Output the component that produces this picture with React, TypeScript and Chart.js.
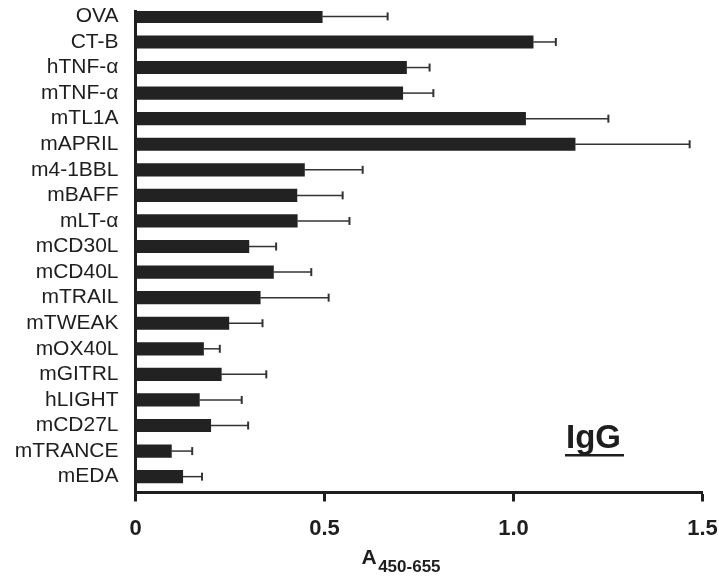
import React, { useEffect, useRef } from "react";
import { Chart, registerables } from "chart.js";

Chart.register(...registerables);

const categories = [
  "OVA", "CT-B", "hTNF-α", "mTNF-α", "mTL1A", "mAPRIL", "m4-1BBL", "mBAFF", "mLT-α",
  "mCD30L", "mCD40L", "mTRAIL", "mTWEAK", "mOX40L", "mGITRL", "hLIGHT", "mCD27L", "mTRANCE", "mEDA",
];
const means = [
  0.494, 1.052, 0.717, 0.707, 1.032, 1.163, 0.447, 0.427, 0.428,
  0.300, 0.365, 0.330, 0.247, 0.180, 0.227, 0.169, 0.199, 0.095, 0.125,
];
const errors = [
  0.173, 0.060, 0.061, 0.081, 0.219, 0.303, 0.154, 0.121, 0.138,
  0.072, 0.100, 0.181, 0.089, 0.043, 0.119, 0.112, 0.099, 0.055, 0.051,
];
const xTicks = [0, 0.5, 1.0, 1.5];
const xTickLabels = ["0", "0.5", "1.0", "1.5"];
const axisTitleMain = "A";
const axisTitleSub = "450-655";
const panelLabel = "IgG";

const FONT = "'Liberation Sans', Arial, Helvetica, sans-serif";
const INK = "#1e1e1e";

const errorBarPlugin = {
  id: "errorBars",
  afterDatasetsDraw(chart: any) {
    const { ctx, scales } = chart;
    const xs = scales.x;
    const ys = scales.y;
    ctx.save();
    ctx.strokeStyle = "#333";
    means.forEach((v, i) => {
      const x0 = xs.getPixelForValue(v);
      const x1 = xs.getPixelForValue(v + errors[i]);
      const y = ys.getPixelForValue(i);
      ctx.lineWidth = 1.5;
      ctx.beginPath();
      ctx.moveTo(x0, y);
      ctx.lineTo(x1, y);
      ctx.stroke();
      ctx.lineWidth = 2;
      ctx.beginPath();
      ctx.moveTo(x1, y - 4);
      ctx.lineTo(x1, y + 4);
      ctx.stroke();
    });
    ctx.restore();
  },
};

const annotationPlugin = {
  id: "annotations",
  afterDraw(chart: any) {
    const { ctx } = chart;
    ctx.save();
    ctx.fillStyle = INK;
    ctx.textBaseline = "alphabetic";
    ctx.textAlign = "left";
    ctx.font = `bold 21px ${FONT}`;
    ctx.fillText(axisTitleMain, 361.5, 563.5);
    const aw = ctx.measureText(axisTitleMain).width;
    ctx.font = `bold 17px ${FONT}`;
    ctx.fillText(axisTitleSub, 361.5 + aw + 1.5, 571.5);
    ctx.font = `bold 33px ${FONT}`;
    ctx.fillText(panelLabel, 566, 447.5);
    const w = ctx.measureText(panelLabel).width;
    ctx.fillRect(565, 454, w + 4, 2.5);
    ctx.restore();
  },
};

export default function App() {
  const ref = useRef<HTMLCanvasElement>(null);
  useEffect(() => {
    if (!ref.current) return;
    const chart = new Chart(ref.current, {
      type: "bar",
      data: {
        datasets: [
          {
            data: means.map((v, i) => ({ x: v, y: i })),
            backgroundColor: "#222222",
            borderWidth: 0,
            barThickness: 12.5,
          },
        ],
      },
      options: {
        indexAxis: "y",
        responsive: false,
        animation: false,
        devicePixelRatio: 1,
        layout: { padding: { top: 11, right: 16.5, left: 0, bottom: 0 } },
        plugins: { legend: { display: false }, tooltip: { enabled: false } },
        scales: {
          y: {
            type: "linear",
            reverse: true,
            offset: false,
            min: -0.211,
            max: 18.62,
            afterFit: (s: any) => {
              s.width = 135.5;
              s.paddingTop = 0;
              s.paddingBottom = 0;
            },
            afterBuildTicks: (s: any) => {
              s.ticks = categories.map((_, i) => ({ value: i }));
            },
            ticks: {
              autoSkip: false,
              padding: 9,
              color: INK,
              font: { family: FONT, size: 21 },
              callback: (v: any) => categories[v] ?? "",
            },
            grid: { display: false, offset: false },
            border: { display: true, width: 3, color: INK },
          },
          x: {
            type: "linear",
            min: 0,
            max: 1.5,
            afterFit: (s: any) => {
              s.height = 85.5;
              s.paddingLeft = 0;
              s.paddingRight = 0;
            },
            afterBuildTicks: (s: any) => {
              s.ticks = xTicks.map((v) => ({ value: v }));
            },
            ticks: {
              padding: 14,
              color: INK,
              font: { family: FONT, size: 22, weight: "bold" },
              callback: (v: any) => xTickLabels[xTicks.indexOf(v)] ?? "",
            },
            grid: {
              display: true,
              drawOnChartArea: false,
              drawTicks: true,
              tickLength: 9,
              tickWidth: 3,
              tickColor: INK,
            },
            border: { display: true, width: 3, color: INK },
          },
        },
      },
      plugins: [errorBarPlugin, annotationPlugin],
    });
    return () => chart.destroy();
  }, []);
  return (
    <div style={{ position: "absolute", left: 0, top: 0, width: 719, height: 578, background: "#fff" }}>
      <canvas ref={ref} width={719} height={578} style={{ display: "block", width: 719, height: 578 }} />
    </div>
  );
}
